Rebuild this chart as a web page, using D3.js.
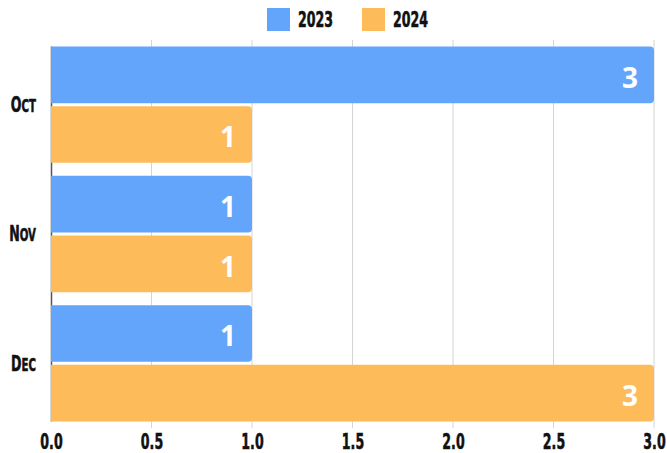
<!DOCTYPE html>
<html>
<head>
<meta charset="utf-8">
<title>Monthly counts 2023 vs 2024</title>
<script src="https://cdn.jsdelivr.net/npm/d3@7"></script>
<style>
  body { margin: 0; background: #fff; }
  .tick text, .legend text, .cat text {
    font-family: "DejaVu Sans", sans-serif;
    font-weight: bold;
    fill: #111;
    stroke: #111;
    stroke-width: 0.6px;
  }
  .val {
    font-family: "Open Sans", "Noto Sans", sans-serif;
    font-weight: 700;
    fill: #fff;
  }
</style>
</head>
<body>
<script>
// data
var months = ["Oct", "Nov", "Dec"];
var years = ["2023", "2024"];
var values2023 = [3, 1, 1];
var values2024 = [1, 1, 3];
var xTicks = [0, 0.5, 1, 1.5, 2, 2.5, 3];
var colors = ["#63a5fa", "#fdbb5a"];

var W = 667, H = 453;
var margin = { top: 40, right: 13, bottom: 25, left: 51 };
var width = W - margin.left - margin.right;
var height = H - margin.top - margin.bottom;
var squeeze = "scale(0.6,1)"; // narrow display look

var rows = months.map(function (m, i) {
  return { month: m, vals: [values2023[i], values2024[i]] };
});

var svg = d3.select("body").append("svg").attr("width", W).attr("height", H);
var g = svg.append("g").attr("transform", "translate(" + margin.left + "," + margin.top + ")");

var x = d3.scaleLinear().domain([0, 3]).range([0, width]);
var y0 = d3.scaleBand().domain(months).range([0, height]).paddingInner(0.1).paddingOuter(0.05);
var y1 = d3.scaleBand().domain(years).range([0, y0.bandwidth()]).paddingInner(0.05);

// grid
g.append("g").selectAll("line").data(xTicks.slice(1)).enter().append("line")
  .attr("x1", d => x(d)).attr("x2", d => x(d))
  .attr("y1", 0).attr("y2", height)
  .attr("stroke", "#d4d4d4").attr("stroke-width", 1);

// left axis line
g.append("line").attr("x1", 0.5).attr("x2", 0.5)
  .attr("y1", y0(months[0])).attr("y2", y0(months[2]) + y0.bandwidth())
  .attr("stroke", "#555").attr("stroke-width", 1.5);

// x axis
var xAxis = d3.axisBottom(x).tickValues(xTicks).tickFormat(d3.format(".1f")).tickSize(0).tickPadding(6);
var xg = g.append("g").attr("transform", "translate(0," + height + ")").call(xAxis);
xg.select(".domain").remove();
xg.selectAll("text").style("font-size", "21px").attr("transform", squeeze);

// bars
function barPath(w, h, r) {
  r = Math.min(r, w);
  return "M0,0H" + (w - r) + "Q" + w + ",0 " + w + "," + r +
    "V" + (h - r) + "Q" + w + "," + h + " " + (w - r) + "," + h + "H0Z";
}

var groups = g.selectAll(".grp").data(rows).enter().append("g")
  .attr("class", "grp")
  .attr("transform", d => "translate(0," + y0(d.month) + ")");

groups.selectAll("path").data(d => d.vals).enter().append("path")
  .attr("transform", (d, i) => "translate(0," + y1(years[i]) + ")")
  .attr("d", d => barPath(x(d), y1.bandwidth(), 4))
  .attr("fill", (d, i) => colors[i]);

groups.selectAll(".val").data(d => d.vals).enter().append("text")
  .attr("class", "val")
  .attr("x", d => x(d) - 16)
  .attr("y", (d, i) => y1(years[i]) + y1.bandwidth() / 2 + 3)
  .attr("dy", "0.35em")
  .attr("text-anchor", "end")
  .style("font-size", "28px")
  .text(d => d);

// category labels (small caps look)
var cat = g.append("g").attr("class", "cat");
var catText = cat.selectAll("text").data(months).enter().append("text")
  .attr("transform", d => "translate(-15," + (y0(d) + y0.bandwidth() / 2) + ")" + squeeze)
  .attr("dy", "0.35em")
  .attr("text-anchor", "end")
  .style("font-size", "21px");
catText.append("tspan").text(d => d.charAt(0));
catText.append("tspan").style("font-size", "24px").style("font-variant", "small-caps")
  .text(d => d.slice(1));

// legend
var legend = svg.append("g").attr("class", "legend");
var lx = [267, 362];
years.forEach(function (yr, i) {
  legend.append("rect").attr("x", lx[i]).attr("y", 8).attr("width", 23).attr("height", 23)
    .attr("fill", colors[i]);
  legend.append("text")
    .attr("transform", "translate(" + (lx[i] + 31) + ",19.5)" + squeeze)
    .attr("dy", "0.35em")
    .style("font-size", "21px").text(yr);
});
</script>
</body>
</html>
